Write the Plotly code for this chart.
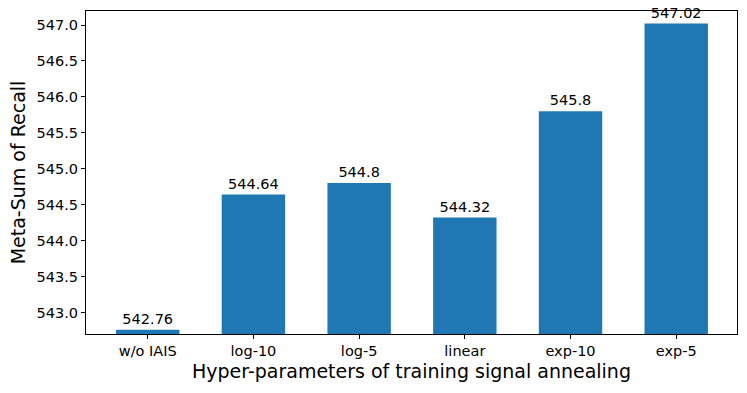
import plotly.graph_objects as go

settings = ["w/o IAIS", "log-10", "log-5", "linear", "exp-10", "exp-5"]
recall_sum = [542.76, 544.64, 544.8, 544.32, 545.8, 547.02]
y_ticks = [543.0, 543.5, 544.0, 544.5, 545.0, 545.5, 546.0, 546.5, 547.0]

font_family = "DejaVu Sans, sans-serif"

fig = go.Figure()
fig.add_trace(go.Bar(
    x=list(range(len(settings))),
    y=recall_sum,
    width=0.6,
    marker=dict(color="#1f77b4", line=dict(width=0)),
    text=[str(v) for v in recall_sum],
    textposition="outside",
    textfont=dict(size=14.5, color="black", family=font_family),
    cliponaxis=False,
    base=0,
))

fig.update_layout(
    width=747, height=393,
    margin=dict(l=86, r=10, t=11, b=59),
    plot_bgcolor="white", paper_bgcolor="white",
    showlegend=False,
    font=dict(family=font_family, color="black"),
)
fig.update_xaxes(
    range=[-0.584, 5.575],
    tickvals=list(range(len(settings))), ticktext=settings,
    tickfont=dict(size=14.5),
    ticks="outside", ticklen=4, tickcolor="black",
    showline=True, linecolor="black", linewidth=1, mirror=True,
    showgrid=False, zeroline=False, automargin=False,
    title=dict(text="Hyper-parameters of training signal annealing",
               font=dict(size=19), standoff=6),
)
fig.update_yaxes(
    range=[542.70, 547.195],
    tickvals=y_ticks, ticktext=[f"{v:.1f}" for v in y_ticks],
    tickfont=dict(size=14.5),
    ticks="outside", ticklen=4, tickcolor="black",
    showline=True, linecolor="black", linewidth=1, mirror=True,
    showgrid=False, zeroline=False, automargin=False,
    title=dict(text="Meta-Sum of Recall", font=dict(size=19), standoff=5),
)

# page body has a default 8px margin; drop it so the figure sits at the corner
fig.write_html("out.html", config={"displayModeBar": False},
               post_script="document.body.style.margin='0px';")
